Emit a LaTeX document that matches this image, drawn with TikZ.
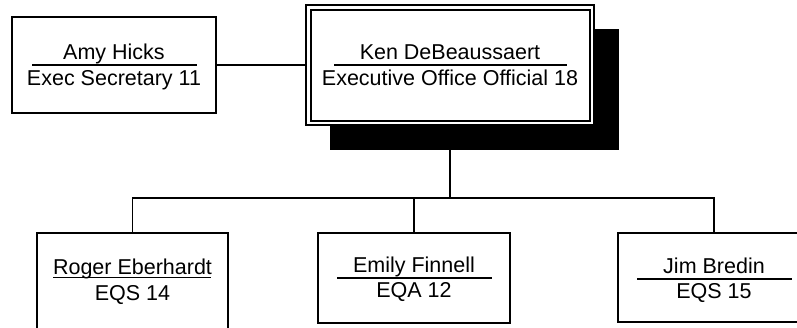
\documentclass[tikz,border=0pt]{standalone}
\usepackage{fontspec}
\setmainfont{Liberation Sans}
\begin{document}
\begin{tikzpicture}[x=1pt,y=1pt,
  box/.style={draw=black,line width=1.6pt,fill=white,rectangle,inner sep=0pt},
  wire/.style={draw=black,line width=1.6pt},
  sep/.style={draw=black,line width=1.3pt},
  txt/.style={inner sep=0pt,anchor=base,font=\fontsize{21.5}{25}\selectfont}]
\useasboundingbox (0,0) rectangle (797,-327);
\clip (0,0) rectangle (797,-327);
% Ken shadow and double box
\node[rectangle,fill=black,inner sep=0pt,minimum width=289pt,minimum height=121pt] (shadow) at (474.5,-89.5) {};
\node[box,line width=1.4pt,minimum width=288pt,minimum height=120pt] (ken) at (450,-65) {};
\node[draw=black,line width=2pt,rectangle,inner sep=0pt,minimum width=279pt,minimum height=111pt] (keninner) at (450,-65) {};
\node[txt] (kenname) at (450,-59) {Ken DeBeaussaert};
\node[txt] (kentitle) at (450,-85) {Executive Office Official 18};
\coordinate (kenl) at (334,-65); \coordinate (kenr) at (567,-65);
\draw[sep] (kenl) -- (kenr);
% Amy
\node[box,minimum width=204pt,minimum height=96pt] (amy) at (114,-65) {};
\node[txt] (amyname) at (114,-59) {Amy Hicks};
\node[txt] (amytitle) at (114,-85) {Exec Secretary 11};
\coordinate (amyl) at (32,-65); \coordinate (amyr) at (197,-65);
\draw[sep] (amyl) -- (amyr);
\draw[wire] (amy.east) -- (ken.west);
% bus
\coordinate (bus) at (450,-198);
\draw[wire] (ken.south |- shadow.south) -- (bus);
% Roger
\node[box,minimum width=191pt,minimum height=112pt] (roger) at (132.5,-289) {};
\node[txt] (rogername) at (132.5,-274) {Roger Eberhardt};
\node[txt] (rogertitle) at (132.5,-300) {EQS 14};
\coordinate (rogl) at (53,-277.5); \coordinate (rogr) at (211,-277.5);
\draw[line width=1.2pt] (rogl) -- (rogr);
% Emily
\node[box,minimum width=192pt,minimum height=90pt] (emily) at (414,-278) {};
\node[txt] (emilyname) at (414,-272) {Emily Finnell};
\node[txt] (emilytitle) at (414,-297) {EQA 12};
\coordinate (emil) at (337,-278); \coordinate (emir) at (492,-278);
\draw[sep] (emil) -- (emir);
% Jim
\node[box,minimum width=192pt,minimum height=89pt] (jim) at (714,-277.5) {};
\node[txt] (jimname) at (714,-273) {Jim Bredin};
\node[txt] (jimtitle) at (714,-298) {EQS 15};
\coordinate (jiml) at (637,-279); \coordinate (jimr) at (792,-279);
\draw[sep] (jiml) -- (jimr);
% connectors
\draw[wire] (roger.north) |- (bus);
\draw[wire] (emily.north) |- (bus);
\draw[wire] (jim.north) |- (bus);
\end{tikzpicture}
\end{document}
